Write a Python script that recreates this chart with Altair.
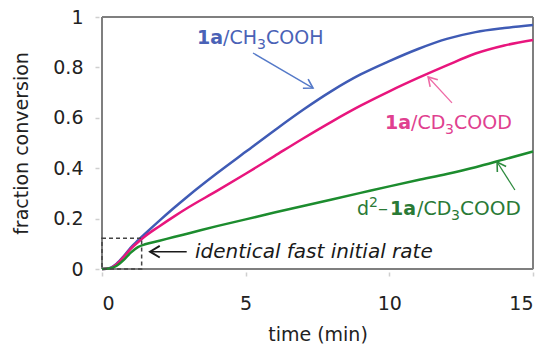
import math
import altair as alt
import pandas as pd

# ---- data ----
time_min = [0, 0.25, 0.5, 0.75, 1, 1.25, 1.5, 2, 2.5, 3, 4, 5, 6, 7, 8, 9, 10, 11, 12, 13, 14, 15]
conv_h = [0, 0.003, 0.02, 0.05, 0.085, 0.113, 0.14, 0.192, 0.242, 0.29, 0.38, 0.465, 0.55, 0.632, 0.707, 0.772, 0.825, 0.873, 0.913, 0.94, 0.956, 0.968]
conv_d = [0, 0.002, 0.018, 0.047, 0.08, 0.106, 0.13, 0.17, 0.208, 0.244, 0.31, 0.378, 0.448, 0.518, 0.585, 0.648, 0.705, 0.758, 0.808, 0.855, 0.887, 0.909]
conv_d2 = [0, 0.002, 0.012, 0.035, 0.065, 0.087, 0.098, 0.112, 0.127, 0.141, 0.17, 0.197, 0.224, 0.25, 0.276, 0.302, 0.328, 0.353, 0.377, 0.404, 0.435, 0.466]
series = ["1a/CH3COOH", "1a/CD3COOD", "d2-1a/CD3COOD"]
x_ticks = [0, 5, 10, 15]
y_ticks = [0, 0.2, 0.4, 0.6, 0.8, 1]

box_t = [0, 1.38]
box_y = [0, 0.122]

# annotation anchors (data units)
lab_blue = (3.31, 0.893)
lab_pink = (9.85, 0.554)
lab_green = (8.875, 0.216)
lab_note = (3.237, 0.0675)
arr_blue = (5.255, 0.857, 7.343, 0.718)
arr_pink = (12.18, 0.659, 11.35, 0.762)
arr_green = (14.37, 0.3135, 13.75, 0.4246)
arr_note = (2.948, 0.0687, 1.671, 0.0687)

W, H = 431, 252
XMAX = 15.0
FONT = "DejaVu Sans"

BLUE, PINK, GREEN = "#3F5BB5", "#E8157D", "#1C8C2E"
BLUE_T, PINK_T, GREEN_T = "#4A62B6", "#E0408F", "#2A7A36"
BLUE_A, PINK_A, GREEN_A = "#5479C8", "#EE6AA6", "#2D8A3E"
FRAME = "#7f7f7f"

rows = []
for name, vals in zip(series, [conv_h, conv_d, conv_d2]):
    for t, v in zip(time_min, vals):
        rows.append({"t": t, "v": v, "s": name})
df = pd.DataFrame(rows)

xs = alt.Scale(domain=[0, XMAX], nice=False, zero=False)
ys = alt.Scale(domain=[0, 1], nice=False)

frame_x = pd.DataFrame({"t": [0, XMAX], "y": [0, 0], "y2": [1, 1]})
frame_y = pd.DataFrame({"y": [0, 1], "t": [0, 0], "t2": [XMAX, XMAX]})
vframe = alt.Chart(frame_x).mark_rule(color=FRAME, strokeWidth=2).encode(
    x=alt.X("t:Q", scale=xs), y=alt.Y("y:Q", scale=ys), y2="y2:Q")
hframe = alt.Chart(frame_y).mark_rule(color=FRAME, strokeWidth=2).encode(
    y=alt.Y("y:Q", scale=ys), x=alt.X("t:Q", scale=xs), x2="t2:Q")

lines = alt.Chart(df).mark_line(strokeWidth=2.5, interpolate="monotone").encode(
    x=alt.X("t:Q", scale=xs, title="time (min)",
            axis=alt.Axis(values=x_ticks, grid=False, domain=False, tickColor="#cfcfcf",
                          tickSize=4, tickWidth=1.5, offset=3, labelFontSize=19, labelPadding=18,
                          titleFontSize=19, titleFontWeight="normal", titlePadding=12,
                          labelFont=FONT, titleFont=FONT, labelColor="#222", titleColor="#222")),
    y=alt.Y("v:Q", scale=ys, title="fraction conversion",
            axis=alt.Axis(values=y_ticks, format="~g", grid=False, domain=False, tickColor="#cfcfcf",
                          tickSize=4, tickWidth=1.5, offset=3, labelFontSize=19, labelPadding=12,
                          titleFontSize=19, titleFontWeight="normal", titlePadding=21,
                          labelFont=FONT, titleFont=FONT, labelColor="#222", titleColor="#222")),
    color=alt.Color("s:N", scale=alt.Scale(domain=series, range=[BLUE, PINK, GREEN]), legend=None),
    detail="s:N",
)

box = alt.Chart(pd.DataFrame({"t": [box_t[0]], "t2": [box_t[1]], "y": [box_y[0]], "y2": [box_y[1]]})).mark_rect(
    fill=None, stroke="#444444", strokeDash=[4, 3], strokeWidth=1.5
).encode(x=alt.X("t:Q", scale=xs), x2="t2:Q", y=alt.Y("y:Q", scale=ys), y2="y2:Q")


def arrow(a, color, width=1.3, head=300):
    t1, y1, t2, y2 = a
    dxp = (t2 - t1) * W / XMAX
    dyp = -(y2 - y1) * H
    ang = math.degrees(math.atan2(dyp, dxp)) % 360
    d = pd.DataFrame({"t": [t1], "y": [y1], "t2": [t2], "y2": [y2]})
    shaft = alt.Chart(d).mark_rule(color=color, strokeWidth=width).encode(
        x=alt.X("t:Q", scale=xs), y=alt.Y("y:Q", scale=ys), x2="t2:Q", y2="y2:Q")
    tip = alt.Chart(d).mark_point(
        shape="M -1 -0.6 L 0 0 L -1 0.6", filled=False, stroke=color, strokeWidth=width + 0.3,
        angle=ang, size=head, opacity=1
    ).encode(x=alt.X("t2:Q", scale=xs), y=alt.Y("y2:Q", scale=ys))
    return shaft + tip


def frag(pos, text, color, dx=0, dy=0, size=19, weight="normal", style="normal", baseline="alphabetic"):
    d = pd.DataFrame({"t": [pos[0]], "y": [pos[1]], "txt": [text]})
    return alt.Chart(d).mark_text(
        align="left", baseline=baseline, font=FONT, fontSize=size, fontWeight=weight,
        fontStyle=style, color=color, dx=dx, dy=dy
    ).encode(x=alt.X("t:Q", scale=xs), y=alt.Y("y:Q", scale=ys), text="txt:N")


labels = (
    frag(lab_blue, "1a", BLUE_T, weight="bold")
    + frag(lab_blue, "/CH", BLUE_T, dx=26)
    + frag(lab_blue, "3", BLUE_T, dx=60, dy=5, size=14)
    + frag(lab_blue, "COOH", BLUE_T, dx=69)
    + frag(lab_pink, "1a", PINK_T, weight="bold")
    + frag(lab_pink, "/CD", PINK_T, dx=26)
    + frag(lab_pink, "3", PINK_T, dx=60, dy=5, size=14)
    + frag(lab_pink, "COOD", PINK_T, dx=69)
    + frag(lab_green, "d", GREEN_T)
    + frag(lab_green, "2", GREEN_T, dx=12, dy=-8, size=14)
    + frag(lab_green, "\u2013", GREEN_T, dx=21, size=20)
    + frag(lab_green, "1a", GREEN_T, dx=33, weight="bold")
    + frag(lab_green, "/CD", GREEN_T, dx=60)
    + frag(lab_green, "3", GREEN_T, dx=94, dy=5, size=14)
    + frag(lab_green, "COOD", GREEN_T, dx=103, size=20)
    + frag(lab_note, "identical fast initial rate", "#1a1a1a", size=20, style="italic", baseline="middle")
)

arrows = (
    arrow(arr_blue, BLUE_A)
    + arrow(arr_pink, PINK_A)
    + arrow(arr_green, GREEN_A)
    + arrow(arr_note, "#1a1a1a", width=1.6, head=380)
)

chart = alt.layer(vframe, hframe, lines, box, arrows, labels).properties(
    width=W, height=H,
    autosize=alt.AutoSizeParams(type="none"),
    padding={"left": 102, "top": 17, "right": 14, "bottom": 75},
).configure_view(stroke=None).configure(background="white")

chart.save("out.html", embed_options={"renderer": "svg", "actions": False})
